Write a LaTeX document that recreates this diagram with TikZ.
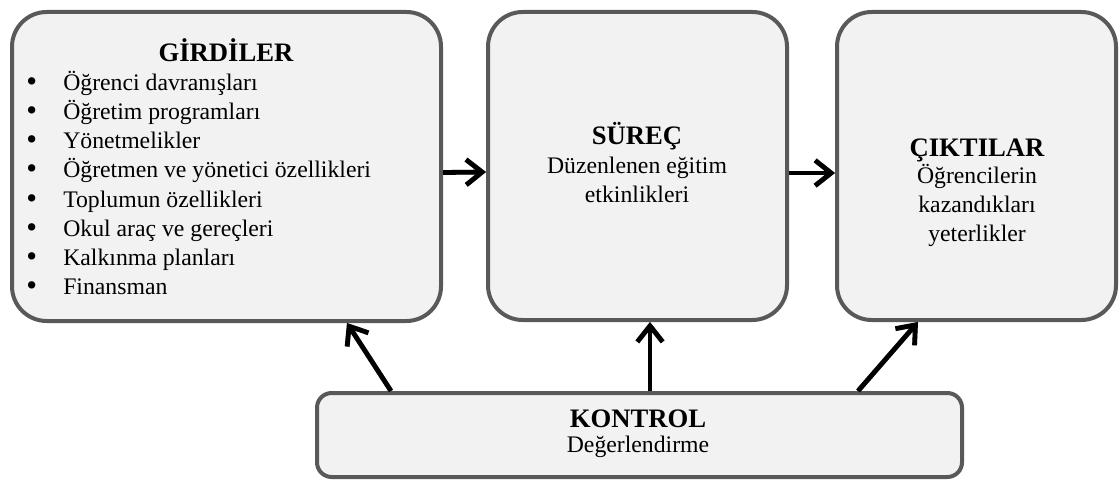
\documentclass[tikz,border=0pt]{standalone}
\usepackage{fontspec}
\setmainfont{Liberation Serif}
\usetikzlibrary{arrows.meta,calc}
\definecolor{boxfill}{HTML}{F2F2F2}
\definecolor{boxline}{HTML}{595959}
\definecolor{shade}{HTML}{9A9A9A}
\newcommand{\gbul}{\makebox[27.75pt][l]{\smash{\raisebox{-0.8pt}{\fontsize{23}{23}\selectfont\textbullet}}}}
\begin{document}
\begin{tikzpicture}[x=0.75pt,y=-0.75pt,
  box/.style={draw=boxline, line width=3pt, fill=boxfill, inner sep=0pt},
  bigbox/.style={box, rounded corners=26pt},
  smallbox/.style={box, rounded corners=11pt},
  bodytext/.style={font=\fontsize{17.8}{21.9}\selectfont, inner sep=0pt},
  titletext/.style={font=\fontsize{20}{22}\selectfont\bfseries, inner sep=0pt},
  tip/.style={-{Straight Barb[length=12pt,width=19pt,line width=3.6pt]}},
  flowshadow/.style={draw=shade, line width=3.6pt, tip, shift={(1.8pt,-1.8pt)}},
  flow/.style={draw=black, line width=3.6pt, tip}]
\useasboundingbox (0,0) rectangle (1120,481);

\node[bigbox, minimum width=429*0.75pt, minimum height=309*0.75pt] (g) at (226.5,166.5) {};
\node[bigbox, minimum width=299*0.75pt, minimum height=308*0.75pt] (s) at (637.5,166) {};
\node[bigbox, minimum width=279*0.75pt, minimum height=308*0.75pt] (c) at (976.5,166) {};
\node[smallbox, minimum width=645*0.75pt, minimum height=84*0.75pt] (k) at (639.5,435) {};

\node[titletext] (gt) at (226,50) {GİRDİLER};
\node[bodytext, anchor=west, align=left] (gl) at (26,183) {%
\gbul Öğrenci davranışları\\
\gbul Öğretim programları\\
\gbul Yönetmelikler\\
\gbul Öğretmen ve yönetici özellikleri\\
\gbul Toplumun özellikleri\\
\gbul Okul araç ve gereçleri\\
\gbul Kalkınma planları\\
\gbul Finansman};

\node[titletext] (st) at (637,136) {SÜREÇ};
\node[bodytext, align=center] (sl) at (637,179.5) {Düzenlenen eğitim\\etkinlikleri};

\node[titletext] (ct) at (977,150) {ÇIKTILAR};
\node[bodytext, align=center] (cl) at (977,205.5) {Öğrencilerin\\kazandıkları\\yeterlikler};

\node[titletext] (kt) at (638,419) {KONTROL};
\node[bodytext] (kl) at (638,447) {Değerlendirme};

\coordinate (a1s) at ($(g.east)+(0,6)$);
\coordinate (a1e) at ($(s.west)+(0,6)$);
\coordinate (a2s) at ($(s.east)+(0,7)$);
\coordinate (a2e) at ($(c.west)+(0,7)$);
\coordinate (u1s) at ($(k.north west)+(76,0)$);
\coordinate (u1e) at ($(g.south west)+(337,0)$);
\coordinate (u2s) at ($(k.north west)+(335,0)$);
\coordinate (u2e) at ($(s.south west)+(164,0)$);
\coordinate (u3s) at ($(k.north west)+(543,0)$);
\coordinate (u3e) at ($(c.south west)+(83,0)$);

\foreach \p/\q in {a1s/a1e,a2s/a2e,u1s/u1e,u2s/u2e,u3s/u3e} {
  \draw[flowshadow] (\p) -- (\q);
  \draw[flow] (\p) -- (\q);
}
\end{tikzpicture}
\end{document}
